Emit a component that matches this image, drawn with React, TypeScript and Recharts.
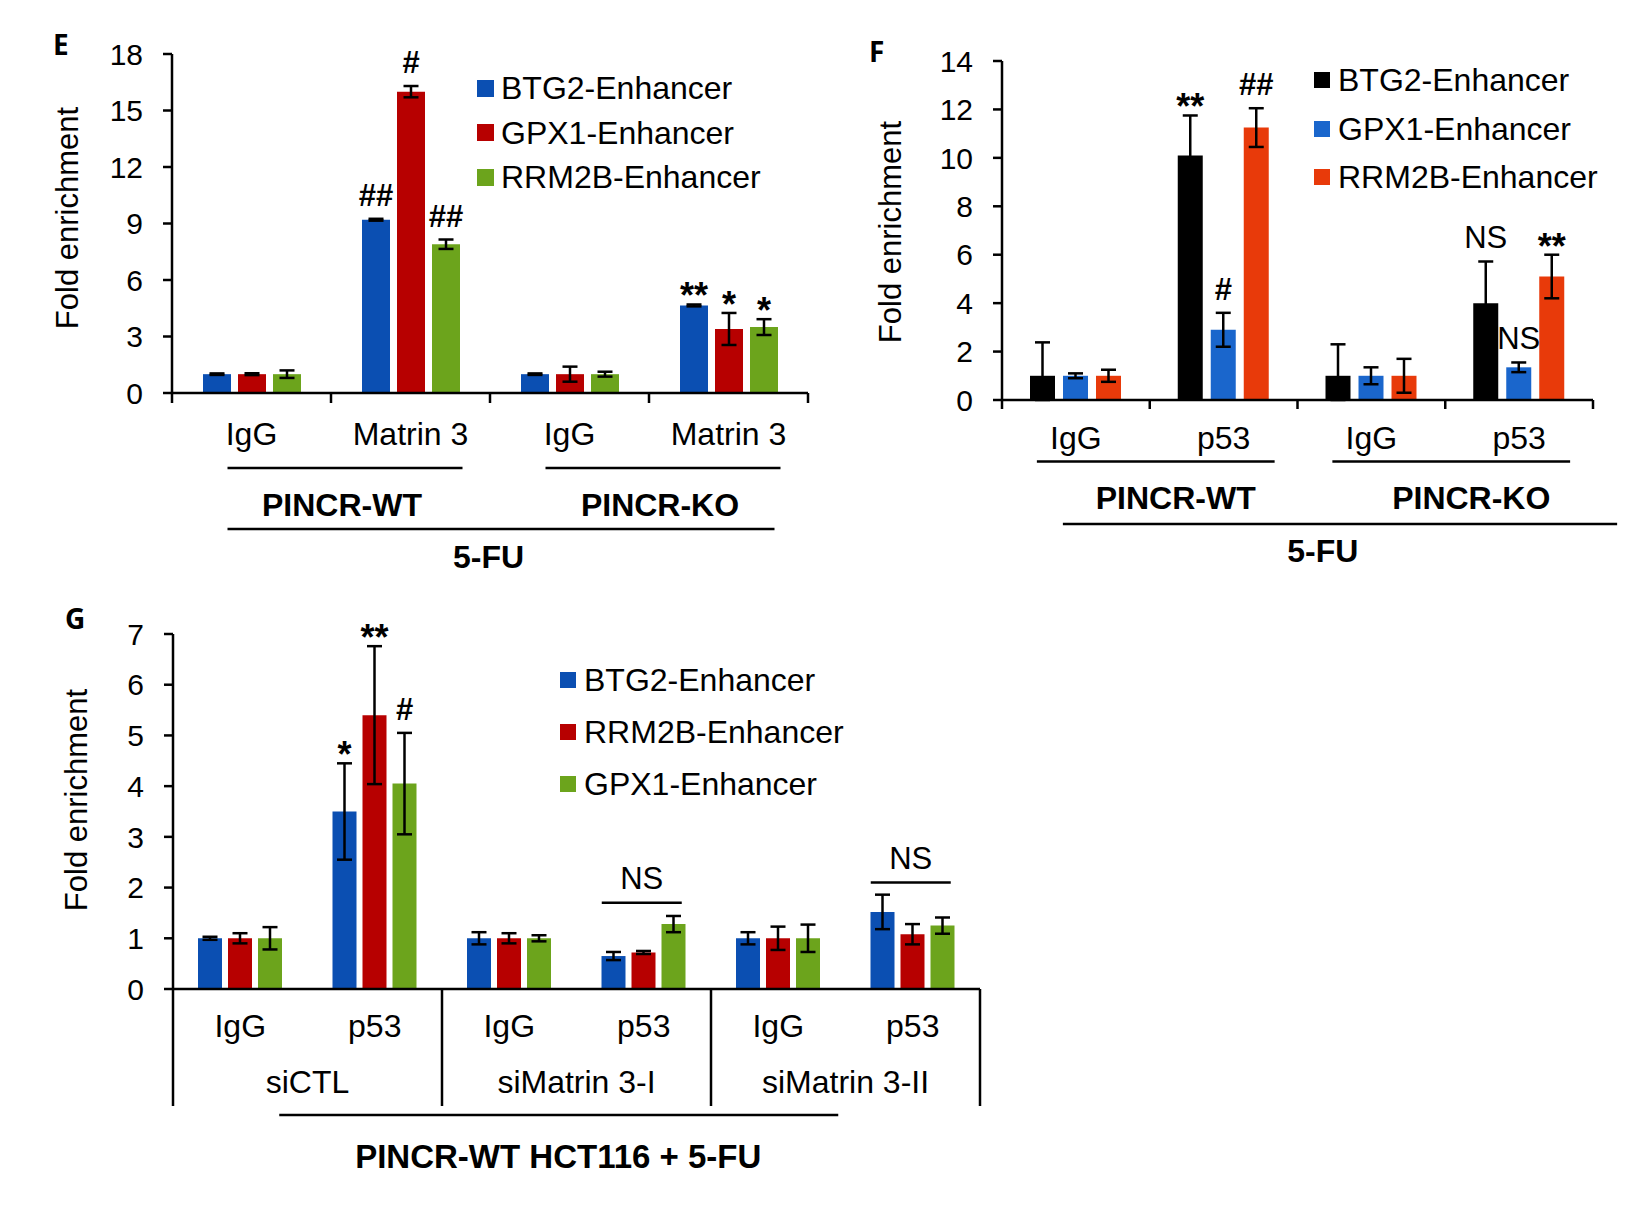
import React from 'react';
import { BarChart, Bar, XAxis, YAxis, ErrorBar, LabelList, Legend } from 'recharts';

const FONT = '"Liberation Sans", Arial, Helvetica, sans-serif';
const LETTER_FONT = '"Open Sans", "DejaVu Sans", sans-serif';

// ---------------- Panel E ----------------
const eCategories = ['IgG', 'Matrin 3', 'IgG', 'Matrin 3'];
const eGroups = ['PINCR-WT', 'PINCR-KO'];
const eTreatment = '5-FU';
const eSeriesNames = ['BTG2-Enhancer', 'GPX1-Enhancer', 'RRM2B-Enhancer'];
const eColors = ['#0B4FB2', '#B70000', '#6CA41C'];
const eBTG2 = [1.0, 9.2, 1.0, 4.65];
const eBTG2Err = [0.04, 0.05, 0.04, 0.05];
const eGPX1 = [1.0, 16.0, 1.0, 3.4];
const eGPX1Err = [0.05, 0.3, 0.4, 0.85];
const eRRM2B = [1.0, 7.9, 1.0, 3.5];
const eRRM2BErr = [0.2, 0.25, 0.13, 0.42];
const eBTG2Sig = ['', '##', '', '**'];
const eGPX1Sig = ['', '#', '', '*'];
const eRRM2BSig = ['', '##', '', '*'];
const eTicks = [0, 3, 6, 9, 12, 15, 18];

// ---------------- Panel F ----------------
const fCategories = ['IgG', 'p53', 'IgG', 'p53'];
const fGroups = ['PINCR-WT', 'PINCR-KO'];
const fTreatment = '5-FU';
const fSeriesNames = ['BTG2-Enhancer', 'GPX1-Enhancer', 'RRM2B-Enhancer'];
const fColors = ['#000000', '#1A66CC', '#E83A0A'];
const fBTG2 = [1.0, 10.1, 1.0, 4.0];
const fBTG2Err = [1.38, 1.65, 1.3, 1.72];
const fGPX1 = [1.0, 2.9, 1.0, 1.35];
const fGPX1Err = [0.1, 0.7, 0.35, 0.2];
const fRRM2B = [1.0, 11.25, 1.0, 5.1];
const fRRM2BErr = [0.25, 0.8, 0.7, 0.9];
const fBTG2Sig = ['', '**', '', 'NS'];
const fGPX1Sig = ['', '#', '', 'NS'];
const fRRM2BSig = ['', '##', '', '**'];
const fTicks = [0, 2, 4, 6, 8, 10, 12, 14];

// ---------------- Panel G ----------------
const gCategories = ['IgG', 'p53', 'IgG', 'p53', 'IgG', 'p53'];
const gGroups = ['siCTL', 'siMatrin 3-I', 'siMatrin 3-II'];
const gTreatment = 'PINCR-WT HCT116 + 5-FU';
const gSeriesNames = ['BTG2-Enhancer', 'RRM2B-Enhancer', 'GPX1-Enhancer'];
const gColors = ['#0B4FB2', '#B70000', '#6CA41C'];
const gBTG2 = [1.0, 3.5, 1.0, 0.65, 1.0, 1.52];
const gBTG2Err = [0.03, 0.95, 0.12, 0.08, 0.12, 0.34];
const gRRM2B = [1.0, 5.4, 1.0, 0.72, 1.0, 1.08];
const gRRM2BErr = [0.1, 1.36, 0.1, 0.03, 0.23, 0.2];
const gGPX1 = [1.0, 4.05, 1.0, 1.28, 1.0, 1.25];
const gGPX1Err = [0.22, 1.0, 0.06, 0.16, 0.27, 0.16];
const gBTG2Sig = ['', '*', '', '', '', ''];
const gRRM2BSig = ['', '**', '', '', '', ''];
const gGPX1Sig = ['', '#', '', '', '', ''];
const gTicks = [0, 1, 2, 3, 4, 5, 6, 7];
const gBracketCats = [3, 5];
const gBracketLevels = [1.7, 2.1];
const gBracketText = ['NS', 'NS'];

const Y_TITLE = 'Fold enrichment';

function buildRows(categories: string[], values: number[][], errors: number[][], sigs: string[][]) {
  return categories.map((name, i) => {
    const row: any = { name };
    values.forEach((v, s) => {
      const err = errors[s][i];
      row['s' + s] = v[i];
      // lower whisker never crosses the baseline
      row['e' + s] = [Math.min(err, v[i]), err];
      row['u' + s] = err;
      row['g' + s] = sigs[s][i];
    });
    return row;
  });
}

const eRows = buildRows(eCategories, [eBTG2, eGPX1, eRRM2B], [eBTG2Err, eGPX1Err, eRRM2BErr], [eBTG2Sig, eGPX1Sig, eRRM2BSig]);
const fRows = buildRows(fCategories, [fBTG2, fGPX1, fRRM2B], [fBTG2Err, fGPX1Err, fRRM2BErr], [fBTG2Sig, fGPX1Sig, fRRM2BSig]);
const gRows = buildRows(gCategories, [gBTG2, gRRM2B, gGPX1], [gBTG2Err, gRRM2BErr, gGPX1Err], [gBTG2Sig, gRRM2BSig, gGPX1Sig]);

const STROKE = 2.5;

// layout (local plot boxes)
const E = { left: 0, top: 0, w: 830, h: 580, pl: 172, pt: 54, pr: 808, pb: 393, yMax: 18 };
const F = { left: 820, top: 0, w: 832, h: 580, pl: 182, pt: 61, pr: 773, pb: 400, yMax: 14 };
const G = { left: 0, top: 580, w: 1000, h: 636, pl: 173, pt: 54, pr: 980, pb: 409, yMax: 7 };

const eBW = (E.pr - E.pl) / eCategories.length;
const fBW = (F.pr - F.pl) / fCategories.length;
const gBW = (G.pr - G.pl) / gCategories.length;

const sigContent = (rows: any[], s: number, pxPerUnit: number) => (props: any) => {
  const value = props.value;
  if (!value) return null;
  const vb = props.viewBox || props;
  const x = vb.x;
  const y = vb.y;
  const w = vb.width;
  const err = rows[props.index] ? rows[props.index]['u' + s] : 0;
  const errTop = y - err * pxPerUnit;
  const str = String(value);
  const isStar = str.indexOf('*') >= 0;
  const isHash = str.indexOf('#') >= 0;
  const base = isStar ? errTop + 4 : errTop - 13;
  return (
    <text
      x={x + w / 2}
      y={base}
      textAnchor="middle"
      fontSize={isStar ? 36 : 31}
      fontWeight={isStar || isHash ? 'bold' : 'normal'}
      fontFamily={FONT}
      fill="#000"
    >
      {value}
    </text>
  );
};

const legendContent = (rowH: number, sq: number, gap: number) => (props: any) => (
  <div style={{ fontFamily: FONT }}>
    {(props.payload || []).map((p: any, i: number) => (
      <div key={i} style={{ display: 'flex', alignItems: 'center', height: rowH, whiteSpace: 'nowrap' }}>
        <span style={{ display: 'inline-block', width: sq, height: sq, background: p.color, marginRight: gap }} />
        <span style={{ fontSize: 32, lineHeight: '32px', color: '#000' }}>{p.value}</span>
      </div>
    ))}
  </div>
);

const txt = (key: string, x: number, y: number, s: string, size = 32, bold = false) => (
  <text key={key} x={x} y={y} textAnchor="middle" fontSize={size} fontWeight={bold ? 'bold' : 'normal'} fontFamily={FONT} fill="#000">
    {s}
  </text>
);
const ln = (key: string, x1: number, y1: number, x2: number, y2: number) => (
  <line key={key} x1={x1} y1={y1} x2={x2} y2={y2} stroke="#000" strokeWidth={STROKE} />
);

function ETick(props: any) {
  const { x, index, payload } = props;
  const n = eCategories.length;
  const ay = E.pb;
  const els: any[] = [];
  els.push(ln('t0', x - eBW / 2, ay, x - eBW / 2, ay + 10));
  if (index === n - 1) els.push(ln('t1', x + eBW / 2, ay, x + eBW / 2, ay + 10));
  els.push(txt('lbl', x, ay + 52, payload.value));
  if (index % 2 === 0) {
    const x1 = x - 24;
    const x2 = x + eBW + 52;
    els.push(ln('ul', x1, ay + 75, x2, ay + 75));
    els.push(txt('grp', (x1 + x2) / 2 - 3, ay + 123, eGroups[index / 2], 32, true));
  }
  if (index === 0) {
    els.push(ln('tl', x - 24, ay + 136, x + 3 * eBW + 46, ay + 136));
    els.push(txt('tr', x + 237, ay + 175, eTreatment, 32, true));
  }
  return <g>{els}</g>;
}

function FTick(props: any) {
  const { x, index, payload } = props;
  const n = fCategories.length;
  const ay = F.pb;
  const els: any[] = [];
  els.push(ln('t0', x - fBW / 2, ay, x - fBW / 2, ay + 9));
  if (index === n - 1) els.push(ln('t1', x + fBW / 2, ay, x + fBW / 2, ay + 9));
  els.push(txt('lbl', x, ay + 49, payload.value));
  if (index % 2 === 0) {
    const x1 = x - 39;
    const x2 = x + fBW + 51;
    els.push(ln('ul', x1, ay + 61.5, x2, ay + 61.5));
    els.push(txt('grp', (x1 + x2) / 2 + 20, ay + 109, fGroups[index / 2], 32, true));
  }
  if (index === 0) {
    els.push(ln('tl', x - 13, ay + 124, x + 3 * fBW + 98, ay + 124));
    els.push(txt('tr', x + 247, ay + 162, fTreatment, 32, true));
  }
  return <g>{els}</g>;
}

function GTick(props: any) {
  const { x, index, payload } = props;
  const n = gCategories.length;
  const ay = G.pb;
  const els: any[] = [];
  if (index % 2 === 0) {
    els.push(ln('v0', x - gBW / 2, ay, x - gBW / 2, ay + 117));
    els.push(txt('grp', x + gBW / 2, ay + 104, gGroups[index / 2]));
  }
  if (index === n - 1) els.push(ln('v1', x + gBW / 2, ay, x + gBW / 2, ay + 117));
  els.push(txt('lbl', x, ay + 48, payload.value));
  if (index === 0) {
    els.push(ln('bl', x + 39, ay + 126, x + 4 * gBW + 60, ay + 126));
    els.push(txt('tr', x + 318, ay + 179, gTreatment, 33, true));
  }
  return <g>{els}</g>;
}

function Panel(props: {
  box: any;
  rows: any[];
  names: string[];
  colors: string[];
  ticks: number[];
  barSize: number;
  barGap: number;
  tick: (p: any) => any;
  legend: { left: number; top: number; rowH: number; sq: number; gap: number };
}) {
  const { box, rows, names, colors, ticks, barSize, barGap, tick, legend } = props;
  const ppu = (box.pb - box.pt) / box.yMax;
  return (
    <div style={{ position: 'absolute', left: box.left, top: box.top, width: box.w, height: box.h, fontFamily: FONT }}>
      <BarChart
        width={box.w}
        height={box.h}
        data={rows}
        barGap={barGap}
        margin={{ top: box.pt, right: box.w - box.pr, bottom: box.h - box.pb - 30, left: 0 }}
      >
        <XAxis
          dataKey="name"
          height={30}
          interval={0}
          tickLine={false}
          axisLine={{ stroke: '#000', strokeWidth: STROKE }}
          tick={(p: any) => tick(p)}
        />
        <YAxis
          type="number"
          width={box.pl}
          domain={[0, box.yMax]}
          ticks={ticks}
          interval={0}
          tickSize={9}
          tickMargin={20}
          axisLine={{ stroke: '#000', strokeWidth: STROKE }}
          tickLine={{ stroke: '#000', strokeWidth: STROKE }}
          tick={{ fontSize: 30, fill: '#000', fontFamily: FONT }}
        />
        <Legend
          layout="vertical"
          align="center"
          verticalAlign="middle"
          itemSorter="dataKey"
          wrapperStyle={{ left: legend.left, top: legend.top, width: 'auto', right: 'auto', bottom: 'auto' }}
          content={legendContent(legend.rowH, legend.sq, legend.gap)}
        />
        {names.map((nm, s) => (
          <Bar key={nm} dataKey={'s' + s} name={nm} fill={colors[s]} barSize={barSize} isAnimationActive={false}>
            <ErrorBar dataKey={'e' + s} width={7.5} strokeWidth={STROKE} stroke="#000" direction="y" isAnimationActive={false} />
            <LabelList dataKey={'g' + s} content={sigContent(rows, s, ppu)} />
          </Bar>
        ))}
      </BarChart>
    </div>
  );
}

function Overlay() {
  const gy = (v: number) => G.top + G.pb - (v / G.yMax) * (G.pb - G.pt);
  const gx = (i: number) => G.left + G.pl + (i + 0.5) * gBW;
  return (
    <svg
      width={1652}
      height={1216}
      style={{ position: 'absolute', left: 0, top: 0, pointerEvents: 'none' }}
    >
      <text x={53} y={55} fontSize={28} fontWeight="bold" fontFamily={LETTER_FONT} fill="#000">E</text>
      <text x={869} y={62} fontSize={28} fontWeight="bold" fontFamily={LETTER_FONT} fill="#000">F</text>
      <text x={65} y={629} fontSize={28} fontWeight="bold" fontFamily={LETTER_FONT} fill="#000">G</text>

      <text x={67} y={218} transform="rotate(-90 67 218)" textAnchor="middle" dominantBaseline="central" fontSize={31} fontFamily={FONT} fill="#000">{Y_TITLE}</text>
      <text x={890} y={232} transform="rotate(-90 890 232)" textAnchor="middle" dominantBaseline="central" fontSize={31} fontFamily={FONT} fill="#000">{Y_TITLE}</text>
      <text x={76} y={800} transform="rotate(-90 76 800)" textAnchor="middle" dominantBaseline="central" fontSize={31} fontFamily={FONT} fill="#000">{Y_TITLE}</text>

      {gBracketCats.map((c, i) => {
        const cx = gx(c);
        const y = gy(gBracketLevels[i]);
        return (
          <g key={i}>
            <line x1={cx - 42} x2={cx + 38} y1={y} y2={y} stroke="#000" strokeWidth={STROKE} />
            <text x={cx - 2} y={y - 14} textAnchor="middle" fontSize={31} fontFamily={FONT} fill="#000">{gBracketText[i]}</text>
          </g>
        );
      })}
    </svg>
  );
}

export default function App() {
  return (
    <div style={{ position: 'absolute', left: 0, top: 0, width: 1652, height: 1216, background: '#fff', fontFamily: FONT }}>
      <Panel
        box={E}
        rows={eRows}
        names={eSeriesNames}
        colors={eColors}
        ticks={eTicks}
        barSize={28}
        barGap={7}
        tick={ETick}
        legend={{ left: 477, top: 66, rowH: 44.5, sq: 17, gap: 7 }}
      />
      <Panel
        box={F}
        rows={fRows}
        names={fSeriesNames}
        colors={fColors}
        ticks={fTicks}
        barSize={25}
        barGap={8}
        tick={FTick}
        legend={{ left: 494, top: 56, rowH: 48.5, sq: 16, gap: 8 }}
      />
      <Panel
        box={G}
        rows={gRows}
        names={gSeriesNames}
        colors={gColors}
        ticks={gTicks}
        barSize={24}
        barGap={6}
        tick={GTick}
        legend={{ left: 560, top: 74, rowH: 52, sq: 16, gap: 8 }}
      />
      <Overlay />
    </div>
  );
}
